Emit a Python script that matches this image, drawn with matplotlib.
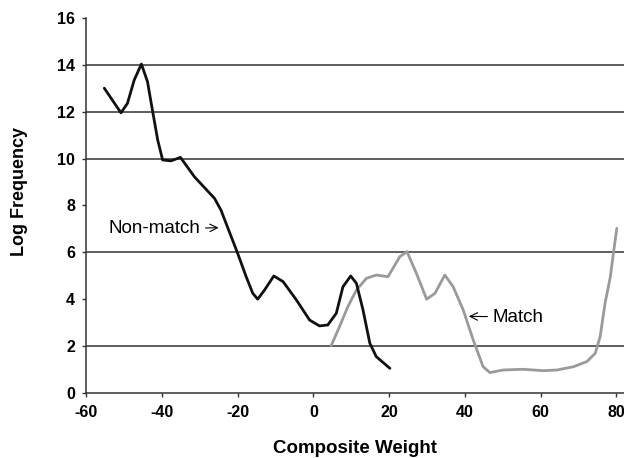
import matplotlib.pyplot as plt

plt.rcParams['font.family'] = ['Liberation Sans', 'DejaVu Sans']
plt.rcParams['axes.unicode_minus'] = False

# Non-match curve (black)
nonmatch_x = [-55.2, -50.8, -49.1, -47.3, -45.4, -43.8, -42.5, -41.1, -39.8, -37.6,
              -35.1, -31.4, -26.1, -24.4, -21.7, -20.0, -17.75, -16.0, -14.7, -12.9,
              -10.45, -8.0, -4.5, -1.0, 1.6, 3.8, 6.05, 7.8, 9.85, 11.35,
              13.1, 14.9, 16.6, 20.2]
nonmatch_y = [13.0, 11.95, 12.35, 13.35, 14.03, 13.28, 12.07, 10.79, 9.94, 9.9,
              10.05, 9.22, 8.3, 7.8, 6.67, 5.96, 4.96, 4.25, 4.0, 4.39,
              4.99, 4.75, 3.97, 3.11, 2.86, 2.9, 3.4, 4.53, 4.99, 4.68,
              3.54, 2.12, 1.55, 1.05]

# Match curve (grey)
match_x = [4.7, 6.9, 9.1, 11.35, 14.0, 16.6, 19.7, 22.8, 24.7, 27.2,
           29.9, 32.1, 34.7, 36.9, 39.55, 42.2, 44.8, 46.6, 50.1, 55.4,
           60.7, 64.3, 68.7, 72.2, 74.4, 75.7, 77.0, 78.4, 79.2, 80.1]
match_y = [2.02, 2.83, 3.68, 4.39, 4.89, 5.03, 4.96, 5.81, 6.03, 5.1,
           4.0, 4.25, 5.03, 4.53, 3.54, 2.26, 1.12, 0.87, 0.98, 1.01,
           0.95, 0.98, 1.12, 1.34, 1.69, 2.4, 3.83, 4.96, 5.96, 7.02]

x_ticks = [-60, -40, -20, 0, 20, 40, 60, 80]
y_ticks = [0, 2, 4, 6, 8, 10, 12, 14, 16]
grid_levels = [2, 6, 10, 12, 14]

fig = plt.figure(figsize=(6.24, 4.58), dpi=100)
ax = fig.add_axes([0.138, 0.142, 0.862, 0.819])

for g in grid_levels:
    ax.axhline(g, color='#333333', linewidth=1.1, zorder=1)

ax.plot(match_x, match_y, color='#9a9a9a', linewidth=2.0, zorder=2,
        solid_joinstyle='round', solid_capstyle='round')
ax.plot(nonmatch_x, nonmatch_y, color='#111111', linewidth=2.0, zorder=3,
        solid_joinstyle='round', solid_capstyle='round')

ax.set_xlim(-60, 82)
ax.set_ylim(0, 16)
ax.set_xticks(x_ticks)
ax.set_yticks(y_ticks)
ax.tick_params(axis='both', labelsize=11.5, color='#333333', length=3, width=1)
ax.tick_params(axis='x', pad=6)
ax.tick_params(axis='y', pad=5)
for lbl in ax.get_xticklabels() + ax.get_yticklabels():
    lbl.set_fontweight('bold')

for side in ['top', 'right']:
    ax.spines[side].set_visible(False)
for side in ['left', 'bottom']:
    ax.spines[side].set_color('#333333')
    ax.spines[side].set_linewidth(1.1)

ax.set_xlabel('Composite Weight', fontsize=13.5, fontweight='bold')
ax.set_ylabel('Log Frequency', fontsize=13, fontweight='bold')
ax.xaxis.set_label_coords(0.5, -0.125)
ax.yaxis.set_label_coords(-0.108, 0.536)

ax.annotate('Non-match', xy=(-24.3, 7.05), xytext=(-54.2, 7.0),
            fontsize=13.5, va='center', ha='left',
            arrowprops=dict(arrowstyle='->', color='black', lw=0.8))
ax.annotate('Match', xy=(40.3, 3.27), xytext=(47.4, 3.24),
            fontsize=13.5, va='center', ha='left',
            arrowprops=dict(arrowstyle='->', color='black', lw=0.8))

fig.savefig('out.png', dpi=100)
